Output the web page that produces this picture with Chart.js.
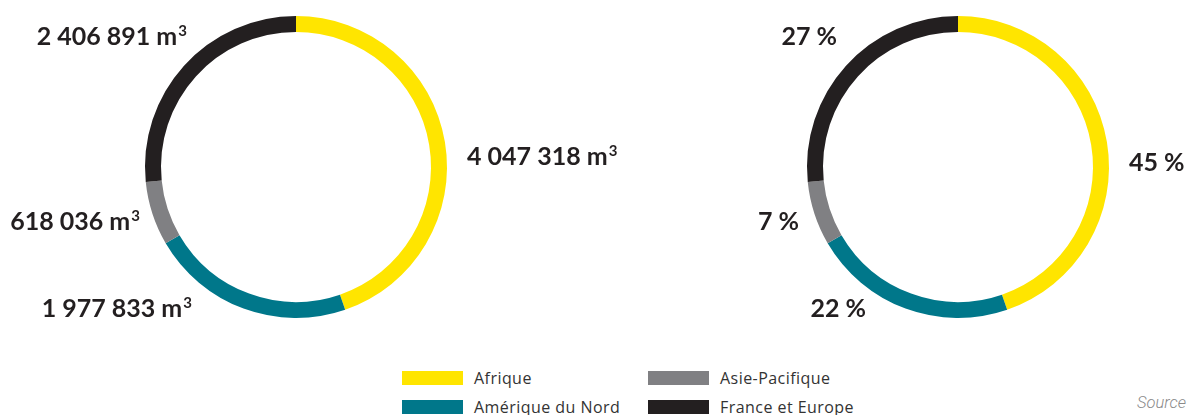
<!DOCTYPE html>
<html lang="fr">
<head>
<meta charset="utf-8">
<script src="https://cdn.jsdelivr.net/npm/chart.js@4"></script>
<style>
  html, body { margin: 0; padding: 0; background: #fff; }
  body { width: 1188px; height: 415px; position: relative; overflow: hidden; font-family: "Open Sans", sans-serif; }
  canvas { position: absolute; top: 0; left: 0; }
  .legend { position: absolute; left: 402px; top: 369px; display: grid; grid-template-columns: 246px 246px; row-gap: 11px; }
  .legend-item { display: flex; align-items: center; height: 18px; font-size: 16px; letter-spacing: 0.45px; color: #333; }
  .legend-item span.box { width: 61px; height: 14px; margin-right: 11px; flex: none; }
  .source { position: absolute; left: 1137px; top: 393px; font-family: Roboto, sans-serif; font-style: italic; font-weight: 300; font-size: 16.5px; color: #8a8a8a; }
</style>
</head>
<body>
<canvas id="volumes" width="1188" height="350"></canvas>
<canvas id="shares" width="1188" height="350"></canvas>
<div class="legend" id="legend"></div>
<div class="source">Source</div>

<script>
// Regions, in drawing order (clockwise from the top)
const regions = ["Afrique", "Amérique du Nord", "Asie-Pacifique", "France et Europe"];
const volumes = [4047318, 1977833, 618036, 2406891]; // m3
const colors = ["#ffe500", "#00778a", "#808083", "#231f20"];
// Legend reads left column then right column
const legendOrder = ["Afrique", "Asie-Pacifique", "Amérique du Nord", "France et Europe"];

const total = volumes.reduce((a, b) => a + b, 0);
const shares = volumes.map(v => Math.round(v / total * 100));

const fmt = n => n.toLocaleString("fr-FR").replace(/\s/g, " ");

// Label anchors relative to the ring centre: [dx, dy, align]
const volumeLabelPos = [[171, -10, "left"], [-104, 142, "right"], [-156, 55, "right"], [-109, -130, "right"]];
const shareLabelPos = [[171, -4, "left"], [-92, 142, "right"], [-159, 55, "right"], [-121, -130, "right"]];

const labelFont = "bold 25px Lato, sans-serif";
const supFont = "bold 15px Lato, sans-serif";
const RING = 302; // ring diameter in px

// Draws one text label per arc, with an optional superscript unit
function ringLabels(texts, positions, sup) {
  return {
    id: "ringLabels",
    afterDatasetsDraw(chart) {
      const { ctx } = chart;
      const arcs = chart.getDatasetMeta(0).data;
      ctx.save();
      ctx.fillStyle = "#231f20";
      ctx.textBaseline = "middle";
      ctx.textAlign = "left";
      arcs.forEach((arc, i) => {
        const [dx, dy, align] = positions[i];
        const x = arc.x + dx, y = arc.y + dy;
        ctx.font = labelFont;
        const w = ctx.measureText(texts[i]).width;
        ctx.font = supFont;
        const sw = sup ? ctx.measureText(sup).width + 1 : 0;
        const left = align === "left" ? x : x - w - sw;
        ctx.font = labelFont;
        ctx.fillText(texts[i], left, y);
        if (sup) {
          ctx.font = supFont;
          ctx.fillText(sup, left + w + 1, y - 6);
        }
      });
      ctx.restore();
    }
  };
}

function makeRing(id, padLeft, texts, positions, sup) {
  const width = document.getElementById(id).width;
  return new Chart(document.getElementById(id), {
    type: "doughnut",
    data: {
      labels: regions,
      datasets: [{
        data: volumes,
        backgroundColor: colors,
        borderWidth: 0,
        hoverOffset: 0
      }]
    },
    options: {
      responsive: false,
      animation: false,
      cutout: "89.4%",
      layout: { padding: { top: 16, bottom: 32, left: padLeft, right: width - RING - padLeft } },
      plugins: { legend: { display: false }, tooltip: { enabled: false } },
      events: []
    },
    plugins: [ringLabels(texts, positions, sup)]
  });
}

makeRing("volumes", 145, volumes.map(v => fmt(v) + " m"), volumeLabelPos, "3");
makeRing("shares", 807, shares.map(s => s + " %"), shareLabelPos, null);

// Legend
const legend = document.getElementById("legend");
legendOrder.forEach(name => {
  const item = document.createElement("div");
  item.className = "legend-item";
  item.innerHTML = `<span class="box" style="background:${colors[regions.indexOf(name)]}"></span>${name}`;
  legend.appendChild(item);
});
</script>
</body>
</html>
